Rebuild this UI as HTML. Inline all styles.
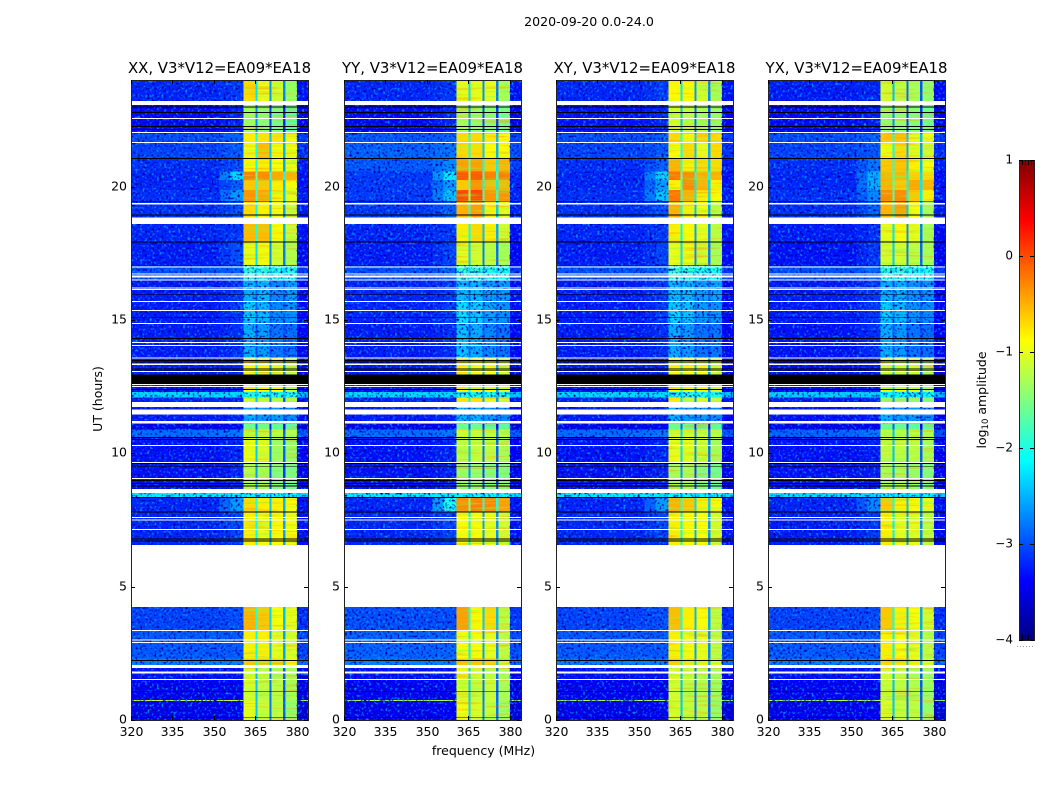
<!DOCTYPE html>
<html lang="en">
<head>
<meta charset="utf-8">
<title>2020-09-20 amplitude waterfall</title>
<style>
html,body{margin:0;padding:0;background:#fff;}
svg{display:block;font-family:"DejaVu Sans","Liberation Sans",sans-serif;fill:#000;}
</style>
</head>
<body>
<svg id="figure" width="1050" height="800" viewBox="0 0 1050 800" xmlns="http://www.w3.org/2000/svg">
  <defs>
    <linearGradient id="jetGradient" x1="0" y1="1" x2="0" y2="0">
      <stop offset="0" stop-color="#000080"/>
      <stop offset="0.125" stop-color="#0000ff"/>
      <stop offset="0.375" stop-color="#00ffff"/>
      <stop offset="0.625" stop-color="#ffff00"/>
      <stop offset="0.875" stop-color="#ff0000"/>
      <stop offset="1" stop-color="#800000"/>
    </linearGradient>
    <filter id="speckle" x="0" y="0" width="1" height="1" color-interpolation-filters="sRGB">
      <feTurbulence type="fractalNoise" baseFrequency="0.42" numOctaves="1" seed="7"/>
      <feColorMatrix type="matrix" values="0 0 0 0 0  0 0 0 0 0.55  0 0 0 0 1  5 0 0 0 -2.7"/>
    </filter>
    <filter id="speckleDark" x="0" y="0" width="1" height="1" color-interpolation-filters="sRGB">
      <feTurbulence type="fractalNoise" baseFrequency="0.42" numOctaves="1" seed="23"/>
      <feColorMatrix type="matrix" values="0 0 0 0 0  0 0 0 0 0  0 0 0 0 0.65  0 4.5 0 0 -2.4"/>
    </filter>
    <filter id="streakGreen" x="0" y="0" width="1" height="1" color-interpolation-filters="sRGB">
      <feTurbulence type="fractalNoise" baseFrequency="0.025 0.4" numOctaves="2" seed="11"/>
      <feColorMatrix type="matrix" values="0 0 0 0 0.5  0 0 0 0 1  0 0 0 0 0.3  1.7 0 0 0 -0.85"/>
    </filter>
    <filter id="streakOrange" x="0" y="0" width="1" height="1" color-interpolation-filters="sRGB">
      <feTurbulence type="fractalNoise" baseFrequency="0.025 0.4" numOctaves="2" seed="31"/>
      <feColorMatrix type="matrix" values="0 0 0 0 1  0 0 0 0 0.6  0 0 0 0 0  0 1.7 0 0 -0.9"/>
    </filter>
  </defs>
  <rect width="1050" height="800" fill="#fff"/>
  <text x="589" y="26" font-size="12.6" text-anchor="middle">2020-09-20 0.0-24.0</text>
  <text x="483.5" y="755" font-size="12.5" text-anchor="middle">frequency (MHz)</text>
  <text transform="translate(102 399) rotate(-90)" font-size="12.5" text-anchor="middle">UT (hours)</text>
  <text transform="translate(986 400) rotate(-90)" font-size="12.5" text-anchor="middle">log<tspan font-size="8.5" dy="2">10</tspan><tspan dy="-2"> amplitude</tspan></text>
  <g id="panels"></g>
  <g id="colorbar">
    <rect x="1019.5" y="160.5" width="15" height="480" fill="url(#jetGradient)" stroke="#222" stroke-width="1"/>
    <line x1="1017" y1="646.5" x2="1035" y2="646.5" stroke="#999" stroke-width="1" stroke-dasharray="1 2"/>
  </g>
</svg>
<script>
const panelNames = ['XX', 'YY', 'XY', 'YX'];
const panelTitles = ['XX, V3*V12=EA09*EA18', 'YY, V3*V12=EA09*EA18', 'XY, V3*V12=EA09*EA18', 'YX, V3*V12=EA09*EA18'];
const freqTicks = [320, 335, 350, 365, 380];
const hourTicks = [0, 5, 10, 15, 20];
const colorTicks = [-4, -3, -2, -1, 0, 1];
const colorTickLabels = ['\u22124', '\u22123', '\u22122', '\u22121', '0', '1'];
const freqEdges = [320, 352, 356, 360.6, 365, 365.8, 370, 370.8, 375, 375.8, 380, 384];
const gapDrop = [1.2, 1.6, 1.7];
const rowEdges = [24, 23.1, 22, 21.65, 21.05, 20.56, 20.25, 19.87, 19.45, 18.7, 17.92, 17.05, 16.5, 15.7, 14.9, 13.6, 12.95, 12.5, 12.3, 12.1, 11.7, 11.1, 10.9, 10.6, 9.68, 8.66, 8.33, 7.81, 6.6, 4.24, 3.36, 2.3, 1.95, 1.5, 0.75, 0.71, 0];

// each row: background, shoulder, band 1, band 2, band 3, band 4 (log10 amplitude)
const ampXX = [
[-3.2,-3.1,-.7,-1,-1.1,-1.35],[-3.35,-3.2,-1.35,-1.45,-1.55,-1.7],[-3,-2.9,-.8,-.75,-.75,-.95],[-3.05,-2.95,-.95,-.55,-.85,-.95],
[-3.15,-3,-.85,-.8,-.9,-.95],[-3.2,-2.3,-.2,-.3,-.45,-.5],[-3.2,-2.9,-.6,-.6,-.8,-.9],[-3.15,-2.6,-.35,-.45,-.8,-1],
[-3.15,-3,-.7,-.8,-.95,-1.1],[-3.2,-3.1,-.55,-.55,-.85,-1.15],[-3.25,-3,-1,-.95,-1.1,-1.25],[-3,-2.9,-1.9,-1.9,-2,-2],
[-3.25,-3.1,-2.5,-2.45,-2.7,-2.6],[-3.25,-3.1,-2.35,-2.45,-2.7,-2.65],[-3.25,-3.15,-2.5,-2.6,-2.8,-2.85],[-3.25,-3.2,-.85,-.85,-1,-1.2],
[-3.25,-3.2,-.85,-.85,-1,-1.2],[-3.3,-3.2,-.85,-.85,-.9,-1.2],[-2.3,-2.3,-2,-2,-2,-2],[-3.2,-3.2,-1.15,-1.15,-1.25,-1.25],
[-3.25,-3.2,-2.5,-2.6,-2.6,-2.7],[-3.45,-3.4,-1.6,-1.6,-1.7,-1.7],[-2.85,-2.8,-1.15,-1.15,-1.2,-1.25],[-3.3,-3.2,-.95,-1.05,-1.35,-1.4],
[-3.3,-3.2,-1.25,-1.3,-1.5,-1.55],[-2.2,-2.2,-2.1,-2.1,-2.1,-2.1],[-3.2,-2.6,-.7,-.8,-.8,-.9],[-3.2,-3.05,-.8,-.95,-.85,-.95],
[-3.2,-3.2,-.8,-.95,-.85,-.95],[-3.05,-3,-.5,-.6,-.9,-1],[-2.95,-2.95,-.8,-.8,-1,-1.05],[-2.75,-2.75,-.6,-.6,-.65,-.95],
[-3.3,-3.3,-1.1,-1.2,-1.3,-1.3],[-3.4,-3.4,-1.1,-1.2,-1.2,-1.3],[-1.1,-1.1,-1.1,-1.2,-1.2,-1.3],[-3.45,-3.4,-1,-1.15,-1.2,-1.4]
];
const ampYY = [
[-3.2,-3.1,-1,-1,-1,-1.3],[-3.35,-3.2,-1.3,-1.4,-1.45,-1.55],[-2.95,-2.9,-.7,-.7,-.8,-.9],[-2.9,-2.8,-.7,-.7,-.9,-.9],
[-2.95,-2.7,-.4,-.4,-.6,-.5],[-3.1,-2.2,-.05,-.05,-.25,-.25],[-3.1,-2.6,-.6,-.35,-.5,-.5],[-3.1,-2.4,.02,.02,-.35,-.35],
[-3.1,-2.9,-.5,-.4,-.8,-1],[-3.2,-3.1,-.8,-.7,-.8,-1.1],[-3.25,-3.05,-1,-1.1,-1.2,-1.3],[-3,-2.9,-1.85,-1.9,-2,-2],
[-3.2,-3.1,-2.45,-2.45,-2.6,-2.6],[-3.2,-3.1,-2.25,-2.35,-2.55,-2.65],[-3.25,-3.15,-2.4,-2.5,-2.7,-2.8],[-3.25,-3.2,-.8,-.9,-.9,-1.1],
[-3.25,-3.2,-.8,-.9,-.9,-1.1],[-3.3,-3.2,-.8,-.8,-.9,-1.1],[-2.3,-2.3,-2,-2,-2,-2],[-3.2,-3.2,-.75,-.75,-1,-1.15],
[-3.25,-3.2,-2.5,-2.5,-2.6,-2.7],[-3.45,-3.4,-1.6,-1.6,-1.7,-1.7],[-2.85,-2.8,-1.1,-1.15,-1.15,-1.2],[-3.3,-3.2,-1.2,-1.15,-1.2,-1.3],
[-3.3,-3.2,-1.4,-1.4,-1.5,-1.5],[-2.2,-2.2,-2.1,-2.1,-2.1,-2.1],[-3.2,-2,-.3,-.25,-.3,-.4],[-3.2,-3.05,-.9,-.9,-1,-1.1],
[-3.2,-3.2,-.9,-.9,-1,-1.1],[-3,-3,-.4,-.85,-.7,-1.2],[-2.9,-2.9,-.9,-.9,-1,-1.2],[-2.75,-2.75,-.6,-.6,-.65,-1.1],
[-3.3,-3.3,-1,-1.1,-1.2,-1.3],[-3.4,-3.4,-1.05,-1.15,-1.15,-1.3],[-1.2,-1.2,-1,-1.1,-1.15,-1.3],[-3.45,-3.4,-.95,-1.05,-1.15,-1.35]
];
const ampXY = [
[-3.2,-3.1,-.85,-.85,-1.1,-1.3],[-3.3,-3.2,-1.1,-1.2,-1.3,-1.4],[-3,-2.9,-.7,-.9,-.7,-.7],[-3.05,-2.95,-.9,-.7,-1,-.7],
[-3.15,-2.9,-.5,-.8,-.7,-.7],[-3.2,-2.3,-.2,-.3,-.5,-.5],[-3.2,-2.6,-.8,-.3,-.5,-.8],[-3.15,-2.4,-.2,-.5,-.8,-.9],
[-3.15,-3,-.5,-.8,-.9,-1.2],[-3.2,-3.1,-.8,-.9,-1,-1.2],[-3.25,-3.05,-1,-.95,-1.1,-1.3],[-3,-2.9,-1.85,-1.9,-2,-2],
[-3.25,-3.1,-2.45,-2.45,-2.6,-2.55],[-3.25,-3.1,-2.3,-2.4,-2.6,-2.65],[-3.25,-3.15,-2.5,-2.6,-2.8,-2.8],[-3.25,-3.2,-.85,-.85,-.9,-1.1],
[-3.25,-3.2,-.85,-.85,-.9,-1.1],[-3.3,-3.2,-.85,-.85,-.9,-1.1],[-2.3,-2.3,-2,-2,-2,-2],[-3.2,-3.2,-.8,-1.2,-1.1,-1.2],
[-3.25,-3.2,-2.5,-2.6,-2.6,-2.7],[-3.45,-3.4,-1.6,-1.6,-1.7,-1.7],[-2.85,-2.8,-1.1,-1.1,-1.15,-1.2],[-3.3,-3.2,-1,-1,-1.1,-1.3],
[-3.3,-3.2,-1.3,-1.3,-1.5,-1.6],[-2.2,-2.2,-2.1,-2.1,-2.1,-2.1],[-3.2,-2.6,-.5,-.6,-.8,-.9],[-3.2,-3.05,-.8,-.9,-.9,-1.1],
[-3.2,-3.2,-.8,-.9,-.9,-1.1],[-3.05,-3,-.55,-.8,-.9,-1.2],[-2.95,-2.95,-.8,-.95,-1,-1.2],[-2.75,-2.75,-.65,-.75,-.8,-1.05],
[-3.3,-3.3,-1.05,-1.15,-1.25,-1.3],[-3.4,-3.4,-1.1,-1.2,-1.25,-1.35],[-1.2,-1.2,-1.1,-1.2,-1.25,-1.35],[-3.45,-3.4,-1.05,-1.15,-1.2,-1.4]
];
const ampYX = [
[-3.25,-3.2,-1.1,-1.2,-1.3,-1.4],[-3.35,-3.25,-1.4,-1.4,-1.5,-1.6],[-3,-2.9,-.6,-.6,-1,-.9],[-3.05,-2.95,-.9,-.7,-1,-1.1],
[-3.15,-2.8,-.6,-.6,-.8,-.9],[-3.2,-2.5,-.5,-.5,-.65,-.7],[-3.2,-2.5,-.5,-.6,-.45,-.5],[-3.15,-2.7,-.3,-.3,-.6,-.8],
[-3.15,-2.9,-.5,-.4,-.9,-1.3],[-3.25,-3.15,-1,-.9,-1,-1.3],[-3.3,-3.1,-1.1,-1.1,-1.2,-1.3],[-3,-2.9,-1.9,-1.9,-2,-2],
[-3.25,-3.1,-2.5,-2.5,-2.65,-2.65],[-3.25,-3.1,-2.35,-2.45,-2.65,-2.7],[-3.3,-3.15,-2.5,-2.6,-2.8,-2.85],[-3.3,-3.25,-1.1,-1.1,-1.1,-1.3],
[-3.3,-3.25,-1.1,-1.1,-1.1,-1.3],[-3.35,-3.25,-1,-1,-1.1,-1.3],[-2.35,-2.35,-2.1,-2.1,-2.1,-2.1],[-3.25,-3.2,-1.4,-1.4,-1.4,-1.5],
[-3.3,-3.25,-2.5,-2.6,-2.6,-2.7],[-3.45,-3.4,-1.65,-1.65,-1.7,-1.7],[-2.9,-2.8,-1.2,-1.2,-1.2,-1.25],[-3.3,-3.25,-1.2,-1.2,-1.2,-1.3],
[-3.3,-3.25,-1.3,-1.3,-1.4,-1.5],[-2.25,-2.25,-2.15,-2.15,-2.15,-2.15],[-3.2,-2.7,-.6,-.8,-.9,-1],[-3.25,-3.1,-.8,-1,-1,-1.2],
[-3.25,-3.2,-.8,-1,-1,-1.2],[-3.05,-3,-.6,-.8,-.9,-1.1],[-2.95,-2.95,-.8,-.9,-1,-1.2],[-2.75,-2.75,-.7,-.75,-.8,-1.05],
[-3.3,-3.3,-1.1,-1.2,-1.3,-1.35],[-3.4,-3.4,-1.15,-1.2,-1.25,-1.35],[-1.25,-1.25,-1.15,-1.2,-1.25,-1.35],[-3.45,-3.4,-1.05,-1.15,-1.2,-1.4]
];
const panelAmps = [ampXX, ampYY, ampXY, ampYX];

// flagged time ranges [low hour, high hour]
const blankSpans = [[23.07,23.22],[22.54,22.58],[22.01,22.05],[21.64,21.68],[19.34,19.38],[18.6,18.84],[16.97,17.01],[16.71,16.75],[16.59,16.66],[16.48,16.52],[16.18,16.22],[16.13,16.16],[15.67,15.71],[15.34,15.38],[14.85,14.89],[14.14,14.18],[14.03,14.06],[13.56,13.6],[13.32,13.36],[13.05,13.09],[12.56,12.6],[12.49,12.53],[11.73,11.93],[11.45,11.65],[11.11,11.21],[10.28,10.31],[9.64,9.68],[9.04,9.08],[8.51,8.66],[7.58,7.61],[7.48,7.52],[7.13,7.16],[4.24,6.57],[3.34,3.38],[2.98,3.02],[2.89,2.93],[1.95,2.07],[1.74,1.81],[1.5,1.54]];
const blackSpans = [[22.97,23.01],[22.76,22.8],[22.23,22.27],[22.13,22.17],[21.03,21.07],[19.44,19.47],[18.91,18.95],[17.91,17.94],[17.04,17.07],[15.95,15.98],[15.09,15.12],[14.29,14.32],[13.47,13.5],[13.41,13.45],[13.16,13.19],[13.11,13.14],[12.6,12.95],[12.38,12.41],[10.58,10.61],[10.5,10.53],[9.6,9.63],[9.5,9.53],[8.97,9],[8.85,8.88],[8.76,8.79],[8.33,8.36],[7.78,7.81],[6.77,6.8],[6.69,6.73],[2.22,2.25],[1.06,1.09],[0.07,0.1]];

const SVGNS = 'http://www.w3.org/2000/svg';
const plotLeft = [131, 344, 556, 768];
const plotWidth = 177;
const plotTop = 80;
const plotBottom = 720;
const freqMin = 320;
const freqMax = 384;
const hourMin = 0;
const hourMax = 24;
const levelMin = -4;
const levelMax = 1;
const barTop = 160;
const barBottom = 640;
const barLeft = 1019;
const barRight = 1034;

function xScale(freq, p) {
  return plotLeft[p] + (freq - freqMin) / (freqMax - freqMin) * plotWidth;
}
function yScale(hour) {
  return plotBottom - (hour - hourMin) / (hourMax - hourMin) * (plotBottom - plotTop);
}
function barScale(level) {
  return barBottom - (level - levelMin) / (levelMax - levelMin) * (barBottom - barTop);
}
function jet(level) {
  const t = Math.max(0, Math.min(1, (level - levelMin) / (levelMax - levelMin)));
  const ch = function (c) {
    return Math.round(255 * Math.max(0, Math.min(1, 1.5 - Math.abs(4 * t - c))));
  };
  return 'rgb(' + ch(3) + ',' + ch(2) + ',' + ch(1) + ')';
}
function mk(tag, attrs, parent) {
  const el = document.createElementNS(SVGNS, tag);
  for (const k in attrs) {
    el.setAttribute(k, attrs[k]);
  }
  parent.appendChild(el);
  return el;
}
function bandMean(row) {
  return (row[2] + row[3] + row[4] + row[5]) / 4;
}
function gapLevel(row, g) {
  const mean = bandMean(row);
  return mean < -1.8 ? mean - 0.35 : mean - gapDrop[g];
}
function columnLevels(row) {
  return [row[0], (row[0] + row[1]) / 2, row[1], row[2], gapLevel(row, 0), row[3], gapLevel(row, 1), row[4], gapLevel(row, 2), row[5], row[0] - 0.1];
}
function addGrain(parent, x0, x1, y0, y1, filterId, name) {
  const grain = mk('rect', { x: x0, y: y0, width: x1 - x0, height: y1 - y0, filter: 'url(#' + filterId + ')' }, parent);
  
  
}

const panelsGroup = document.getElementById('panels');
panelNames.forEach(function (name, p) {
  const group = mk('g', {}, panelsGroup);
  
  

  const cells = mk('g', { 'shape-rendering': 'crispEdges' }, group);
  
  
  panelAmps[p].forEach(function (row, r) {
    const yTop = yScale(rowEdges[r]);
    const yBot = yScale(rowEdges[r + 1]);
    const levels = columnLevels(row);
    levels.forEach(function (level, c) {
      const x0 = xScale(freqEdges[c], p);
      const x1 = xScale(freqEdges[c + 1], p);
      const cell = mk('rect', { x: x0, y: yTop, width: x1 - x0, height: yBot - yTop, fill: jet(level) }, cells);
      
      
    });
    const bandX0 = xScale(freqEdges[3], p);
    const bandX1 = xScale(freqEdges[10], p);
    if (bandMean(row) < -1.8) {
      addGrain(group, bandX0, bandX1, yTop, yBot, 'speckle', 'band-speckle');
      addGrain(group, bandX0, bandX1, yTop, yBot, 'speckleDark', 'band-speckle-dark');
    } else {
      [[3, 4], [5, 6], [7, 8], [9, 10]].forEach(function (pair) {
        addGrain(group, xScale(freqEdges[pair[0]], p), xScale(freqEdges[pair[1]], p), yTop, yBot, 'streakGreen', 'band-streak-green');
        addGrain(group, xScale(freqEdges[pair[0]], p), xScale(freqEdges[pair[1]], p), yTop, yBot, 'streakOrange', 'band-streak-orange');
      });
    }
  });

  addGrain(group, xScale(freqEdges[0], p), xScale(freqEdges[3], p), plotTop, plotBottom, 'speckle', 'background-speckle');
  addGrain(group, xScale(freqEdges[0], p), xScale(freqEdges[3], p), plotTop, plotBottom, 'speckleDark', 'background-speckle-dark');
  addGrain(group, xScale(freqEdges[10], p), xScale(freqEdges[11], p), plotTop, plotBottom, 'speckle', 'background-speckle');
  addGrain(group, xScale(freqEdges[10], p), xScale(freqEdges[11], p), plotTop, plotBottom, 'speckleDark', 'background-speckle-dark');

  const flags = mk('g', { 'shape-rendering': 'crispEdges' }, group);
  
  
  blankSpans.forEach(function (span) {
    const band = mk('rect', { x: plotLeft[p], y: yScale(span[1]), width: plotWidth, height: yScale(span[0]) - yScale(span[1]), fill: '#fff' }, flags);
    
    
  });
  blackSpans.forEach(function (span) {
    const band = mk('rect', { x: plotLeft[p], y: yScale(span[1]), width: plotWidth, height: yScale(span[0]) - yScale(span[1]), fill: '#000' }, flags);
    
    
  });

  const frame = mk('rect', { x: plotLeft[p] + 0.5, y: plotTop + 0.5, width: plotWidth, height: plotBottom - plotTop, fill: 'none', stroke: '#222', 'stroke-width': 1 }, group);
  
  

  const title = mk('text', { x: plotLeft[p] + plotWidth / 2, y: 73, 'font-size': 14.9, 'text-anchor': 'middle' }, group);
  
  
  title.textContent = panelTitles[p];

  freqTicks.forEach(function (freq) {
    const x = Math.round(xScale(freq, p)) + 0.5;
    const tickTop = mk('line', { x1: x, x2: x, y1: plotTop, y2: plotTop + 4, stroke: '#000' }, group);
    
    
    const tickBottom = mk('line', { x1: x, x2: x, y1: plotBottom, y2: plotBottom - 4, stroke: '#000' }, group);
    
    
    const label = mk('text', { x: x, y: 736, 'font-size': 12.5, 'text-anchor': 'middle' }, group);
    
    
    label.textContent = freq;
  });

  hourTicks.forEach(function (hour) {
    const y = Math.round(yScale(hour)) + 0.5;
    const tickLeft = mk('line', { x1: plotLeft[p], x2: plotLeft[p] + 4, y1: y, y2: y, stroke: '#000' }, group);
    
    
    const tickRight = mk('line', { x1: plotLeft[p] + plotWidth, x2: plotLeft[p] + plotWidth - 4, y1: y, y2: y, stroke: '#000' }, group);
    
    
    const label = mk('text', { x: plotLeft[p] - 4, y: y + 3, 'font-size': 12.5, 'text-anchor': 'end' }, group);
    
    
    label.textContent = hour;
  });
});

const colorbarGroup = document.getElementById('colorbar');
colorTicks.forEach(function (level, i) {
  const y = Math.round(barScale(level)) + 0.5;
  const left = mk('line', { x1: barLeft, x2: barLeft + 4, y1: y, y2: y, stroke: '#000' }, colorbarGroup);
  
  
  const right = mk('line', { x1: barRight, x2: barRight - 4, y1: y, y2: y, stroke: '#000' }, colorbarGroup);
  
  
  const label = mk('text', { x: 1013, y: y + 3, 'font-size': 12, 'text-anchor': 'end' }, colorbarGroup);
  
  
  label.textContent = colorTickLabels[i];
});
for (let k = 1; k <= 4; k++) {
  const x = barLeft + k * 3 + 0.5;
  const capTop = mk('line', { x1: x, x2: x, y1: barTop, y2: barTop + 5, stroke: '#000' }, colorbarGroup);
  
  
  const capBottom = mk('line', { x1: x, x2: x, y1: barBottom, y2: barBottom - 5, stroke: '#000' }, colorbarGroup);
  
  
}
</script>
</body>
</html>
